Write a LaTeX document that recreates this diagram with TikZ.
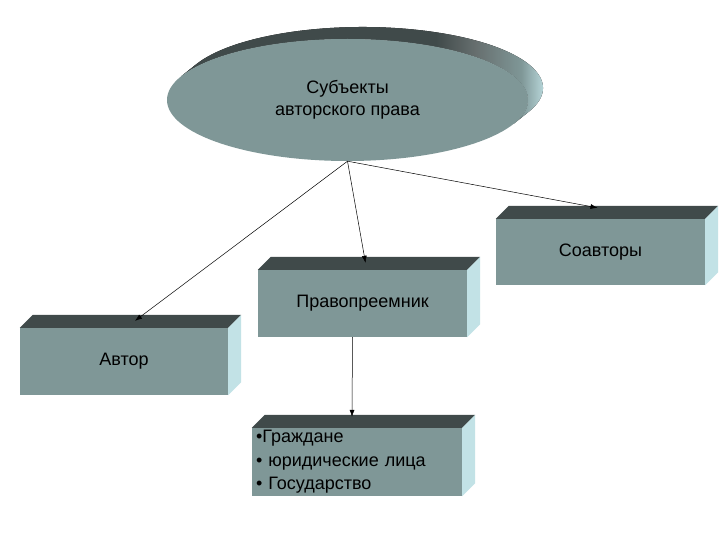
\documentclass[tikz,border=0pt]{standalone}
\usepackage{fontspec}
\setmainfont{Liberation Sans}
\usepackage{tikz}
\usetikzlibrary{shapes.geometric,arrows.meta}

\definecolor{facec}{RGB}{127,151,151}
\definecolor{topc}{RGB}{64,74,74}
\definecolor{sidec}{RGB}{194,226,230}
% stops 25bp..75bp span the filled path
\pgfdeclarehorizontalshading{rimshade}{100bp}{color(0bp)=(topc); color(25bp)=(topc); color(58bp)=(topc); color(63bp)=(topc!80!white); color(69bp)=(facec); color(72.5bp)=(sidec); color(100bp)=(sidec)}

\tikzset{
  slab/.style={rectangle, inner sep=0pt, fill=facec, font=\fontsize{18}{23.5}\selectfont},
  link/.style={-{Latex[length=7pt,width=5pt]}, line width=0.5pt}
}
% top and right faces of a box
\newcommand{\slabfaces}[1]{%
  \fill[topc] (#1.north west) -- ++(13,-13) -- ([shift={(13,-13)}]#1.north east) -- (#1.north east) -- cycle;
  \fill[sidec] (#1.north east) -- ++(13,-13) -- ([shift={(13,-13)}]#1.south east) -- (#1.south east) -- cycle;
}

\begin{document}
\begin{tikzpicture}[x=1pt, y=-1pt]
\useasboundingbox[fill=white] (0,0) rectangle (720,540);

% raised ellipse: rim, then face
\coordinate (rimback) at (362.5,88);
\coordinate (rimfront) at (347.5,100);
\fill[shading=rimshade]
  ([shift={(22.9:180.5 and 61)}]rimback) arc[start angle=22.9, end angle=-157.1, x radius=180.5, y radius=61]
  -- ([shift={(-157.1:180.5 and 61)}]rimfront) arc[start angle=-157.1, end angle=22.9, x radius=180.5, y radius=61]
  -- cycle;
\node[ellipse, fill=facec, minimum width=361pt, minimum height=122pt, inner sep=0pt,
      align=center, font=\fontsize{18}{22}\selectfont] (subj) at (rimfront)
  {Субъекты\\авторского права};

% boxes
\node[slab, minimum width=208pt, minimum height=67pt] (avtor) at (124,361.5) {Автор};
\node[slab, minimum width=209pt, minimum height=67pt] (pravo) at (362.5,303.5) {Правопреемник};
\node[slab, minimum width=209pt, minimum height=66pt] (soavt) at (600.5,252) {Соавторы};
\node[slab, minimum width=210pt, minimum height=68pt, align=left, text width=202pt] (lica) at (357,462)
  {•Граждане\\• юридические лица\\• Государство};
\slabfaces{avtor}
\slabfaces{pravo}
\slabfaces{soavt}
\slabfaces{lica}

% connectors
\draw[link] (subj.south) -- ([shift={(11,-7)}]avtor.north);
\draw[link] (subj.south) -- ([shift={(3,-7)}]pravo.north);
\draw[link] (subj.south) -- ([shift={(-3,-11)}]soavt.north);
\draw[link] ([shift={(-10,0)}]pravo.south) -- ([shift={(-5,-11)}]lica.north);
\end{tikzpicture}
\end{document}
